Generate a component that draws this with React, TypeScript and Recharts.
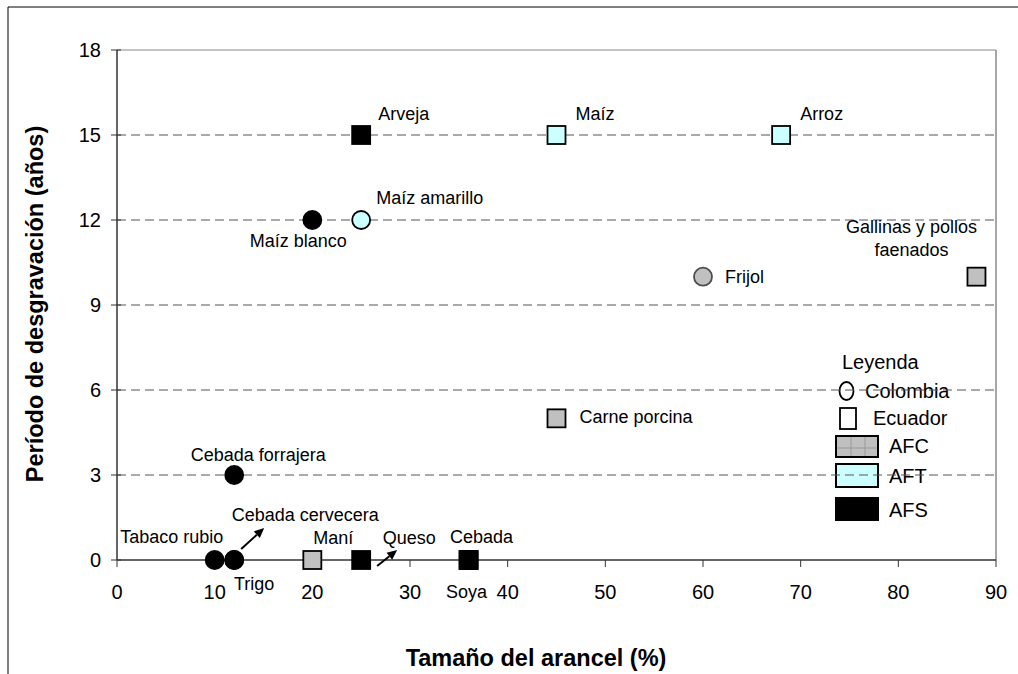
import React from 'react';
import { ScatterChart, Scatter, XAxis, YAxis, ReferenceLine, Customized } from 'recharts';

const xTicks = [0, 10, 20, 30, 40, 50, 60, 70, 80, 90];
const yTicks = [0, 3, 6, 9, 12, 15, 18];
const gridValues = [3, 6, 9, 12, 15];

const colombiaProducts = ['Tabaco rubio', 'Trigo', 'Cebada cervecera', 'Cebada forrajera', 'Maíz blanco', 'Maíz amarillo', 'Frijol'];
const colombiaTariffs = [10, 12, 12, 12, 20, 25, 60];
const colombiaPeriods = [0, 0, 0, 3, 12, 12, 10];
const colombiaGroups = ['AFS', 'AFS', 'AFS', 'AFS', 'AFS', 'AFT', 'AFC'];

const ecuadorProducts = ['Arveja', 'Maíz', 'Arroz', 'Gallinas y pollos\nfaenados', 'Carne porcina', 'Maní', 'Queso', 'Cebada', 'Soya'];
const ecuadorTariffs = [25, 45, 68, 88, 45, 20, 25, 36, 36];
const ecuadorPeriods = [15, 15, 15, 10, 5, 0, 0, 0, 0];
const ecuadorGroups = ['AFS', 'AFT', 'AFT', 'AFC', 'AFC', 'AFC', 'AFS', 'AFS', 'AFS'];

const legendTitle = 'Leyenda';
const countryNames = ['Colombia', 'Ecuador'];
const groupNames = ['AFC', 'AFT', 'AFS'];

const xTitle = 'Tamaño del arancel (%)';
const yTitle = 'Período de desgravación (años)';

const FONT = "'Liberation Sans', Arial, sans-serif";
const groupFill: Record<string, string> = { AFC: '#C0C0C0', AFT: '#CCFFFF', AFS: '#000000' };

const colombiaData = colombiaProducts.map((name, i) => ({ name, x: colombiaTariffs[i], y: colombiaPeriods[i], group: colombiaGroups[i] }));
const ecuadorData = ecuadorProducts.map((name, i) => ({ name, x: ecuadorTariffs[i], y: ecuadorPeriods[i], group: ecuadorGroups[i] }));

type Lay = { dx: number; dy: number; anchor: 'start' | 'middle' | 'end'; arrow?: [number, number, number, number] };
const labelLayout: Record<string, Lay> = {
  'Arveja': { dx: 17, dy: -21, anchor: 'start' },
  'Maíz': { dx: 19, dy: -21, anchor: 'start' },
  'Arroz': { dx: 19, dy: -21, anchor: 'start' },
  'Maíz amarillo': { dx: 15, dy: -22, anchor: 'start' },
  'Maíz blanco': { dx: -14, dy: 21, anchor: 'middle' },
  'Gallinas y pollos\nfaenados': { dx: -65, dy: -50, anchor: 'middle' },
  'Frijol': { dx: 22, dy: 0, anchor: 'start' },
  'Carne porcina': { dx: 23, dy: -2, anchor: 'start' },
  'Cebada forrajera': { dx: 24, dy: -20, anchor: 'middle' },
  'Tabaco rubio': { dx: -43, dy: -23, anchor: 'middle' },
  'Trigo': { dx: 20, dy: 24, anchor: 'middle' },
  'Cebada cervecera': { dx: 71, dy: -45, anchor: 'middle', arrow: [7, -11, 30, -32] },
  'Maní': { dx: 21, dy: -22, anchor: 'middle' },
  'Queso': { dx: 48, dy: -22, anchor: 'middle', arrow: [16, 6, 36, -10] },
  'Cebada': { dx: 13, dy: -23, anchor: 'middle' },
  'Soya': { dx: -2, dy: 32, anchor: 'middle' },
};

function Arrow({ x1, y1, x2, y2 }: { x1: number; y1: number; x2: number; y2: number }) {
  const ang = Math.atan2(y2 - y1, x2 - x1);
  const L = 10, W = 4.5;
  const bx = x2 - L * Math.cos(ang), by = y2 - L * Math.sin(ang);
  const px = -Math.sin(ang) * W, py = Math.cos(ang) * W;
  return (
    <g>
      <line x1={x1} y1={y1} x2={bx} y2={by} stroke="#000" strokeWidth={2} />
      <polygon points={`${x2},${y2} ${bx + px},${by + py} ${bx - px},${by - py}`} fill="#000" />
    </g>
  );
}

function PointLabel({ cx, cy, name }: { cx: number; cy: number; name: string }) {
  const lay = labelLayout[name];
  if (!lay) return null;
  const lines = name.split('\n');
  return (
    <g>
      {lines.map((ln, i) => (
        <text key={i} x={cx + lay.dx} y={cy + lay.dy + i * 23} dy="0.35em" textAnchor={lay.anchor}
          fontFamily={FONT} fontSize={18} fill="#000">{ln}</text>
      ))}
      {lay.arrow && <Arrow x1={cx + lay.arrow[0]} y1={cy + lay.arrow[1]} x2={cx + lay.arrow[2]} y2={cy + lay.arrow[3]} />}
    </g>
  );
}

const circleShape = (props: any) => {
  const { cx, cy, payload } = props;
  const stroke = payload.group === 'AFC' ? '#4d4d4d' : '#000';
  return (
    <g>
      <circle cx={cx} cy={cy} r={9} fill={groupFill[payload.group]} stroke={stroke} strokeWidth={1.8} />
      <PointLabel cx={cx} cy={cy} name={payload.name} />
    </g>
  );
};

const squareShape = (props: any) => {
  const { cx, cy, payload } = props;
  return (
    <g>
      <rect x={cx - 9} y={cy - 9} width={18} height={18} fill={groupFill[payload.group]} stroke="#000" strokeWidth={1.8} />
      <PointLabel cx={cx} cy={cy} name={payload.name} />
    </g>
  );
};

const YTick = (props: any) => {
  const { x, y, payload } = props;
  return (
    <g>
      <line x1={x + 10} y1={y} x2={x + 20} y2={y} stroke="#333" strokeWidth={1} />
      <text x={x} y={y} dy="0.35em" textAnchor="end" fontFamily={FONT} fontSize={20} fill="#000">{payload.value}</text>
    </g>
  );
};

function Decorations() {
  return (
    <g>
      <line x1={8} y1={7} x2={1018} y2={7} stroke="#000" strokeWidth={1} />
      <line x1={8} y1={7} x2={8} y2={674} stroke="#000" strokeWidth={1} />
      <text x={536} y={658} dy="0.35em" textAnchor="middle" fontFamily={FONT} fontWeight="bold" fontSize={23.5} fill="#000">{xTitle}</text>
      <text x={35} y={304} dy="0.35em" textAnchor="middle" fontFamily={FONT} fontWeight="bold" fontSize={23.5} fill="#000"
        transform="rotate(-90 35 304)">{yTitle}</text>
      <text x={842} y={362} dy="0.35em" fontFamily={FONT} fontSize={20} fill="#000">{legendTitle}</text>
      <ellipse cx={846.5} cy={391} rx={7} ry={9} fill="none" stroke="#000" strokeWidth={1.8} />
      <text x={865} y={391} dy="0.35em" fontFamily={FONT} fontSize={20} fill="#000">{countryNames[0]}</text>
      <rect x={840} y={408} width={16} height={21} fill="none" stroke="#000" strokeWidth={1.8} />
      <text x={873} y={418} dy="0.35em" fontFamily={FONT} fontSize={20} fill="#000">{countryNames[1]}</text>
      <rect x={836} y={436} width={42} height={21} fill={groupFill.AFC} stroke="none" />
      <line x1={851} y1={436} x2={851} y2={457} stroke="#9a9a9a" strokeWidth={1} />
      <line x1={865} y1={436} x2={865} y2={457} stroke="#9a9a9a" strokeWidth={1} />
      <line x1={836} y1={448} x2={878} y2={448} stroke="#9a9a9a" strokeWidth={1} />
      <rect x={836} y={436} width={42} height={21} fill="none" stroke="#000" strokeWidth={2} />
      <text x={889} y={446} dy="0.35em" fontFamily={FONT} fontSize={20} fill="#000">{groupNames[0]}</text>
      <rect x={836} y={464} width={42} height={23} fill={groupFill.AFT} stroke="#000" strokeWidth={2} />
      <text x={889} y={476} dy="0.35em" fontFamily={FONT} fontSize={20} fill="#000">{groupNames[1]}</text>
      <rect x={836} y={498} width={42} height={22} fill={groupFill.AFS} stroke="#000" strokeWidth={2} />
      <text x={889} y={510} dy="0.35em" fontFamily={FONT} fontSize={20} fill="#000">{groupNames[2]}</text>
    </g>
  );
}

export default function App() {
  return (
    <div style={{ position: 'absolute', left: 0, top: 0, width: 1018, height: 674, background: '#fff' }}>
      <ScatterChart width={1018} height={674} margin={{ top: 50, right: 22, bottom: 74, left: 57 }}>
        {gridValues.map((v) => (
          <ReferenceLine key={v} y={v} stroke="#555" strokeWidth={1} strokeDasharray="9 5" />
        ))}
        <ReferenceLine y={18} stroke="#888" strokeWidth={1} />
        <ReferenceLine x={90} stroke="#888" strokeWidth={1.5} />
        <XAxis type="number" dataKey="x" domain={[0, 90]} ticks={xTicks} interval={0} height={40}
          axisLine={{ stroke: '#333', strokeWidth: 1.5 }} tickLine={{ stroke: '#333' }} tickSize={7} tickMargin={18}
          tick={{ fill: '#000', fontSize: 20, fontFamily: FONT }} />
        <YAxis type="number" dataKey="y" domain={[0, 18]} ticks={yTicks} interval={0} width={60}
          axisLine={{ stroke: '#333', strokeWidth: 1.5 }} tickLine={false} tickSize={6} tickMargin={10}
          tick={<YTick />} />
        <Customized component={Decorations} />
        <Scatter data={colombiaData} shape={circleShape} isAnimationActive={false} />
        <Scatter data={ecuadorData} shape={squareShape} isAnimationActive={false} />
      </ScatterChart>
    </div>
  );
}
